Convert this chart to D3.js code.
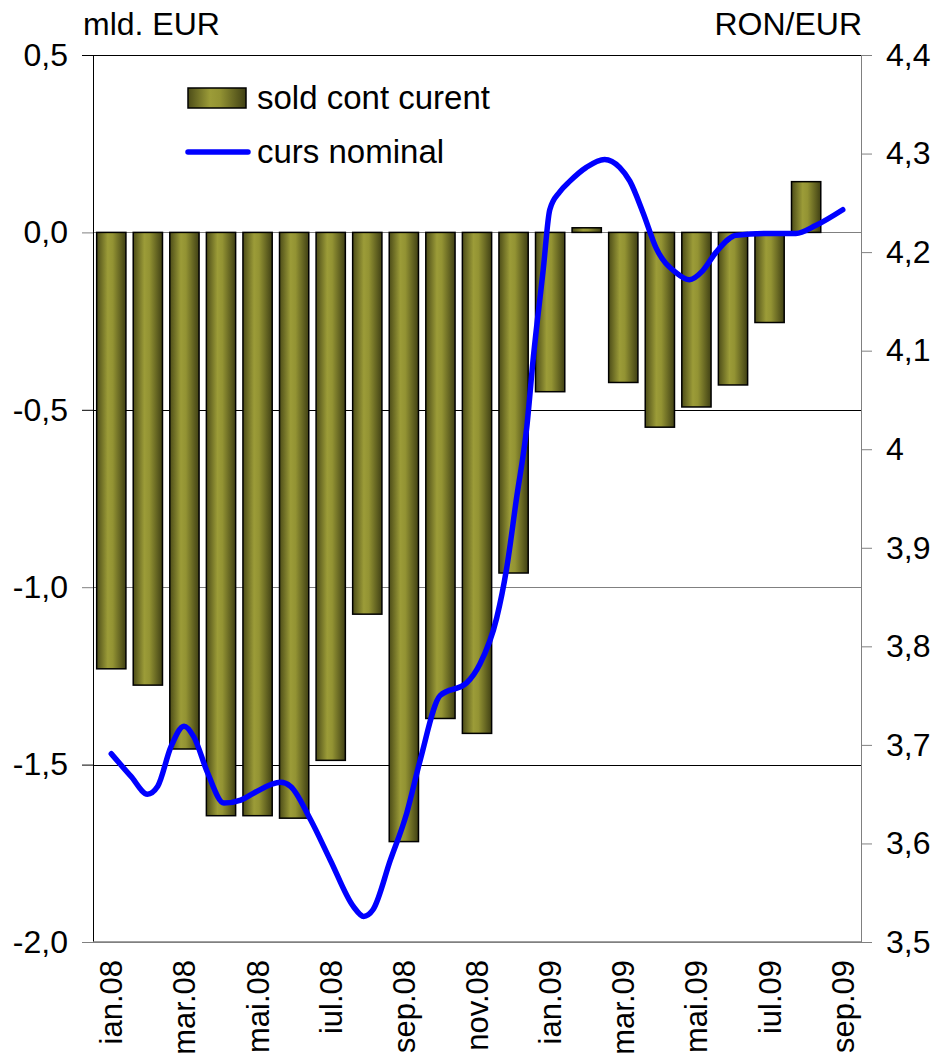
<!DOCTYPE html>
<html><head><meta charset="utf-8">
<script src="https://cdn.jsdelivr.net/npm/d3@7"></script>
<style>body{margin:0;background:#fff}svg{display:block}text{font-family:"Liberation Sans",Arial,sans-serif;fill:#000}</style>
</head><body><svg id="c" width="938" height="1062"></svg>
<script>
// ---- data ----
const categories = ["ian.08","feb.08","mar.08","apr.08","mai.08","iun.08","iul.08","aug.08","sep.08","oct.08","nov.08","dec.08",
  "ian.09","feb.09","mar.09","apr.09","mai.09","iun.09","iul.09","aug.09","sep.09"];
// sold cont curent, mld. EUR (sep.09 not available)
const soldCont = [-1.23,-1.276,-1.456,-1.644,-1.644,-1.651,-1.488,-1.076,-1.717,-1.37,-1.412,-0.96,
  -0.449,0.013,-0.423,-0.549,-0.492,-0.43,-0.254,0.143,null];
// curs nominal RON/EUR: time in months from ian.08 and value
const cursT = [0,0.54,0.99,1.27,1.63,1.99,2.26,2.63,3.08,3.54,3.89,4.63,4.90,5.45,5.99,6.62,6.90,7.16,7.63,8.08,8.45,
  8.99,9.72,10.08,10.54,10.81,11.08,11.36,11.54,11.81,11.99,12.26,12.54,12.99,13.49,13.90,14.18,14.54,14.90,15.45,15.81,
  16.17,16.54,17.08,17.90,18.72,19.26,20];
const cursV = [3.691,3.668,3.650,3.658,3.698,3.719,3.708,3.672,3.641,3.644,3.651,3.662,3.658,3.624,3.583,3.536,3.526,3.533,3.583,3.631,3.685,
  3.750,3.763,3.782,3.829,3.879,3.950,4.022,4.093,4.182,4.243,4.261,4.272,4.286,4.294,4.286,4.272,4.240,4.204,4.179,4.172,
  4.181,4.200,4.217,4.219,4.219,4.227,4.243];
const leftTicks = [0.5,0,-0.5,-1.0,-1.5,-2.0];
const rightTicks = [4.4,4.3,4.2,4.1,4.0,3.9,3.8,3.7,3.6,3.5];
const seriesNames = ["sold cont curent","curs nominal"];

// ---- layout ----
const L=93, R=861, T=55, B=942;
const svg = d3.select("#c");
const x = d3.scaleBand().domain(categories).range([L,R]).paddingInner(0.2).paddingOuter(0.1);
const yL = d3.scaleLinear().domain([-2,0.5]).range([B,T]);
const yR = d3.scaleLinear().domain([3.5,4.4]).range([B,T]);
const xT = d3.scaleLinear().domain([0,categories.length-1])
  .range([x(categories[0])+x.bandwidth()/2, x(categories[categories.length-1])+x.bandwidth()/2]);

const defs = svg.append("defs");
const g = defs.append("linearGradient").attr("id","olive").attr("x1","0").attr("x2","1").attr("y1","0").attr("y2","0");
g.append("stop").attr("offset","0").attr("stop-color","#4c4c18");
g.append("stop").attr("offset","0.38").attr("stop-color","#9c9c38");
g.append("stop").attr("offset","0.55").attr("stop-color","#939333");
g.append("stop").attr("offset","1").attr("stop-color","#404014");

// gridlines
svg.append("g").selectAll("line").data(leftTicks).join("line")
  .attr("x1",L).attr("x2",R)
  .attr("y1",d=>Math.round(yL(d))+0.5).attr("y2",d=>Math.round(yL(d))+0.5)
  .attr("stroke",(d,i)=> i%2===0 ? "#000" : "#808080").attr("stroke-width",1);

// bars
svg.append("g").selectAll("rect").data(categories.map((c,i)=>({c,v:soldCont[i]})).filter(d=>d.v!==null)).join("rect")
  .attr("x",d=>x(d.c)).attr("width",x.bandwidth())
  .attr("y",d=>yL(Math.max(0,d.v))).attr("height",d=>Math.abs(yL(d.v)-yL(0)))
  .attr("fill","url(#olive)").attr("stroke","#000").attr("stroke-width",1.5);

// left axis
const axL = svg.append("g").attr("transform",`translate(${L},0)`)
  .call(d3.axisLeft(yL).tickValues(leftTicks).tickSize(11).tickPadding(14)
    .tickFormat(d=>d.toFixed(1).replace(".",",")));
axL.select(".domain").remove();
axL.selectAll(".tick line").attr("stroke",(d,i)=> i%2===0 ? "#000" : "#808080");
axL.selectAll("text").attr("font-size",32).style("font-family",'"Liberation Sans",Arial,sans-serif');
svg.append("line").attr("x1",L+0.5).attr("x2",L+0.5).attr("y1",T).attr("y2",B).attr("stroke","#000");

// right axis
const axR = svg.append("g").attr("transform",`translate(${R},0)`)
  .call(d3.axisRight(yR).tickValues(rightTicks).tickSize(11).tickPadding(14)
    .tickFormat(d=>String(+d.toFixed(1)).replace(".",",")));
axR.select(".domain").remove();
axR.selectAll(".tick line").attr("stroke","#808080");
axR.selectAll("text").attr("font-size",32).style("font-family",'"Liberation Sans",Arial,sans-serif');
svg.append("line").attr("x1",R+0.5).attr("x2",R+0.5).attr("y1",T).attr("y2",B).attr("stroke","#808080");

// bottom axis labels
svg.append("line").attr("x1",L).attr("x2",R).attr("y1",B).attr("y2",B).attr("stroke","#808080").attr("stroke-width",1.5);
svg.append("g").selectAll("text").data(categories.filter((c,i)=>i%2===0)).join("text")
  .attr("transform",d=>`translate(${x(d)+x.bandwidth()/2+11},960) rotate(-90)`)
  .attr("text-anchor","end").attr("font-size",31).text(d=>d);

// line
svg.append("path").datum(cursT.map((t,i)=>[t,cursV[i]]))
  .attr("fill","none").attr("stroke","#0000ff").attr("stroke-width",5.5).attr("stroke-linecap","round").attr("stroke-linejoin","round")
  .attr("d",d3.line().x(d=>xT(d[0])).y(d=>yR(d[1])).curve(d3.curveMonotoneX));

// axis titles
svg.append("text").attr("x",83).attr("y",35).attr("font-size",32).text("mld. EUR");
svg.append("text").attr("x",862).attr("y",35).attr("font-size",32).attr("text-anchor","end").text("RON/EUR");

// legend
const lg = svg.append("g");
lg.append("rect").attr("x",188).attr("y",88).attr("width",58).attr("height",20).attr("fill","url(#olive)").attr("stroke","#000").attr("stroke-width",1.5);
lg.append("text").attr("x",257).attr("y",109).attr("font-size",33).text(seriesNames[0]);
lg.append("line").attr("x1",188).attr("x2",248).attr("y1",152).attr("y2",152).attr("stroke","#0000ff").attr("stroke-width",5.5).attr("stroke-linecap","round");
lg.append("text").attr("x",257).attr("y",163).attr("font-size",33).text(seriesNames[1]);
</script></body></html>
